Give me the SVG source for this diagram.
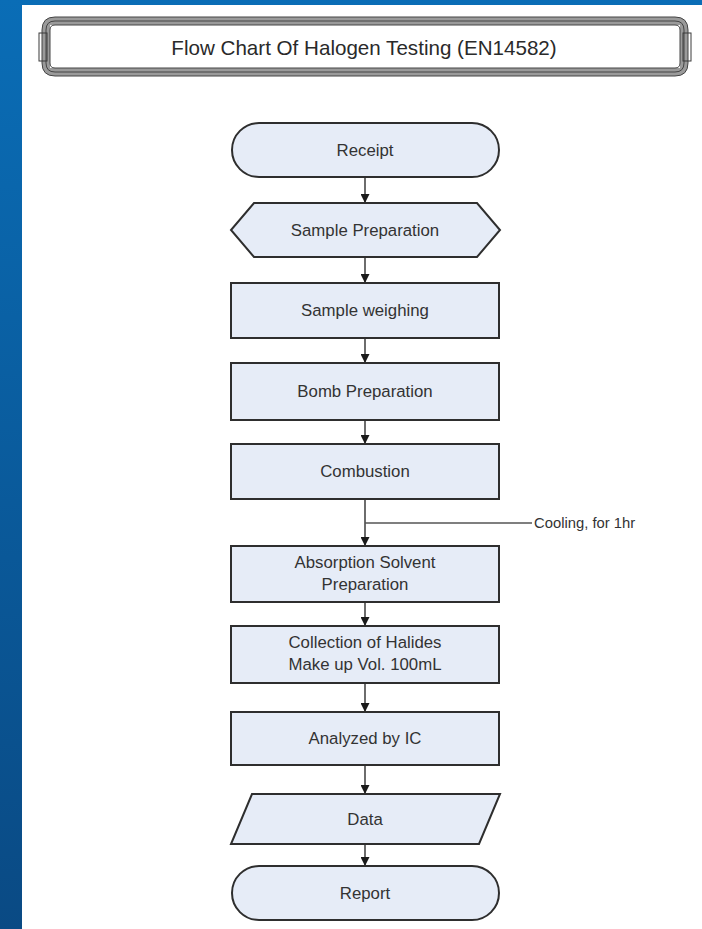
<svg xmlns="http://www.w3.org/2000/svg" width="702" height="929" viewBox="0 0 702 929">
<defs>
<linearGradient id="blue" x1="0" y1="0" x2="0" y2="1">
<stop offset="0" stop-color="#0a6db6"/>
<stop offset="1" stop-color="#0a4a84"/>
</linearGradient>
<marker id="arr" viewBox="0 0 10 10" refX="10" refY="5" markerWidth="9" markerHeight="9" markerUnits="userSpaceOnUse" orient="auto">
<path d="M0,0 L10,5 L0,10 Z" fill="#1a1a1a"/>
</marker>
<style>
.box{fill:#e6ecf7;stroke:#2e2e2e;stroke-width:2}
.t{font-family:"Liberation Sans",Arial,sans-serif;font-size:16.8px;fill:#333;text-anchor:middle}
.conn{stroke:#2e2e2e;stroke-width:1.4;fill:none}
.band{fill:none;stroke:#9a9a9a;stroke-width:8}
.bline{fill:none;stroke:#444;stroke-width:1}
</style>
</defs>
<rect x="0" y="0" width="702" height="929" fill="url(#blue)"/>
<rect x="22" y="5" width="680" height="924" fill="#ffffff"/>

<g id="title">
<path class="band" d="M55,21 H675 Q684,21 684,30 V63 Q684,72 675,72 H55 Q46,72 46,63 V30 Q46,21 55,21 Z"/>
<rect x="50" y="25" width="630" height="43" fill="#ffffff"/>
<path class="bline" d="M55,17 H675 Q688,17 688,30 V63 Q688,76 675,76 H55 Q42,76 42,63 V30 Q42,17 55,17 Z"/>
<path class="bline" d="M55,21 H675 Q684,21 684,30 V63 Q684,72 675,72 H55 Q46,72 46,63 V30 Q46,21 55,21 Z"/>
<path class="bline" d="M55,25 H675 Q680,25 680,30 V63 Q680,68 675,68 H55 Q50,68 50,63 V30 Q50,25 55,25 Z"/>
<rect x="39" y="33" width="8" height="28" fill="none" stroke="#3a3a3a" stroke-width="1"/>
<rect x="683" y="33" width="8" height="28" fill="none" stroke="#3a3a3a" stroke-width="1"/>
<text x="364" y="55" font-family="'Liberation Sans',Arial,sans-serif" font-size="20.6" fill="#2a2a2a" text-anchor="middle">Flow Chart Of Halogen Testing (EN14582)</text>
</g>

<g id="connectors">
<line class="conn" x1="365" y1="177" x2="365" y2="203" marker-end="url(#arr)"/>
<line class="conn" x1="365" y1="257" x2="365" y2="283" marker-end="url(#arr)"/>
<line class="conn" x1="365" y1="338" x2="365" y2="363" marker-end="url(#arr)"/>
<line class="conn" x1="365" y1="420" x2="365" y2="444" marker-end="url(#arr)"/>
<line class="conn" x1="365" y1="499" x2="365" y2="546" marker-end="url(#arr)"/>
<line x1="365" y1="523" x2="532" y2="523" stroke="#555" stroke-width="1.3"/>
<text x="534" y="528" font-family="'Liberation Sans',Arial,sans-serif" font-size="14.8" fill="#333">Cooling, for 1hr</text>
<line class="conn" x1="365" y1="602" x2="365" y2="626" marker-end="url(#arr)"/>
<line class="conn" x1="365" y1="683" x2="365" y2="712" marker-end="url(#arr)"/>
<line class="conn" x1="365" y1="765" x2="365" y2="794" marker-end="url(#arr)"/>
<line class="conn" x1="365" y1="844" x2="365" y2="866" marker-end="url(#arr)"/>
</g>

<g id="receipt">
<rect class="box" x="232" y="123" width="267" height="54" rx="27" ry="27"/>
<text class="t" x="365" y="156">Receipt</text>
</g>
<g id="sample-preparation">
<polygon class="box" points="254,203 477,203 500,230 477,257 254,257 231,230"/>
<text class="t" x="365" y="236">Sample Preparation</text>
</g>
<g id="sample-weighing">
<rect class="box" x="231" y="283" width="268" height="55"/>
<text class="t" x="365" y="316">Sample weighing</text>
</g>
<g id="bomb-preparation">
<rect class="box" x="231" y="363" width="268" height="57"/>
<text class="t" x="365" y="397">Bomb Preparation</text>
</g>
<g id="combustion">
<rect class="box" x="231" y="444" width="268" height="55"/>
<text class="t" x="365" y="477">Combustion</text>
</g>
<g id="absorption">
<rect class="box" x="231" y="546" width="268" height="56"/>
<text class="t" x="365" y="568">Absorption Solvent</text>
<text class="t" x="365" y="590">Preparation</text>
</g>
<g id="collection">
<rect class="box" x="231" y="626" width="268" height="57"/>
<text class="t" x="365" y="648">Collection of Halides</text>
<text class="t" x="365" y="670">Make up Vol. 100mL</text>
</g>
<g id="analyzed">
<rect class="box" x="231" y="712" width="268" height="53"/>
<text class="t" x="365" y="744">Analyzed by IC</text>
</g>
<g id="data">
<polygon class="box" points="252,794 500,794 479,844 231,844"/>
<text class="t" x="365" y="825">Data</text>
</g>
<g id="report">
<rect class="box" x="232" y="866" width="267" height="54" rx="27" ry="27"/>
<text class="t" x="365" y="899">Report</text>
</g>
</svg>
